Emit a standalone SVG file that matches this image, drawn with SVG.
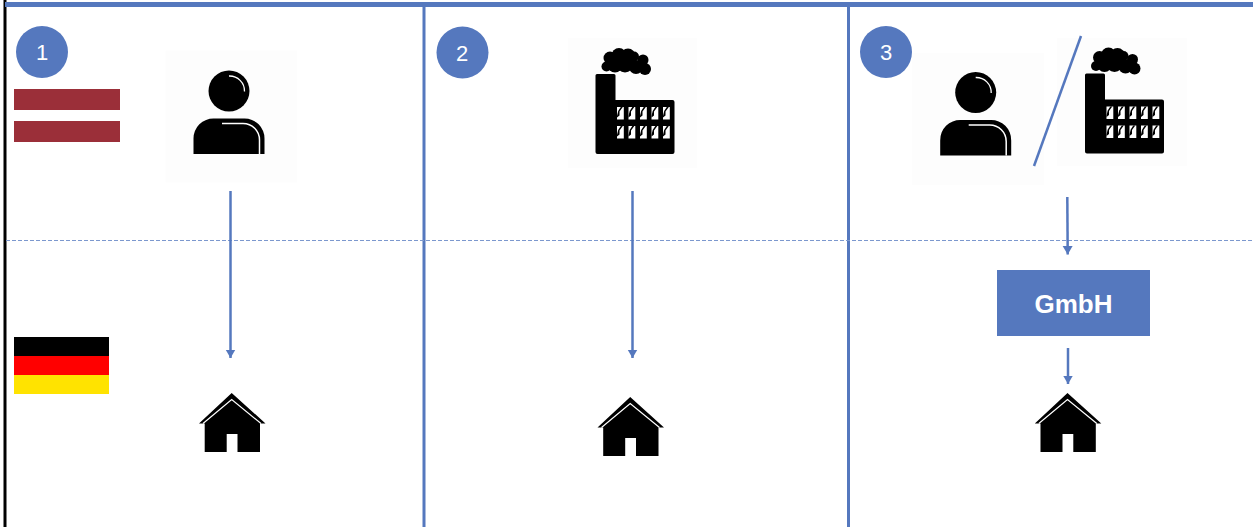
<svg xmlns="http://www.w3.org/2000/svg" width="1253" height="527" viewBox="0 0 1253 527">
<style>
.frame{stroke:#5578BE;stroke-width:3;fill:none}
.flow{stroke:#5578BE;stroke-width:2.500;fill:none;marker-end:url(#arrow)}
.badge{fill:#5578BE}
.badgeText{font-family:"Liberation Sans",Arial,sans-serif;font-size:22px;fill:#fff;text-anchor:middle}
.bg{fill:#FDFDFD}
.win{fill:#fff}
.notch{fill:#000}
</style>
<defs>
<marker id="arrow" markerUnits="userSpaceOnUse" markerWidth="11" markerHeight="11" refX="8.500" refY="5" orient="auto">
<path d="M0,0 L8.500,5 L0,10 Z" fill="#5578BE"/>
</marker>
<symbol id="window" overflow="visible">
<rect class="win" x="0" y="0" width="6.800" height="12.500"/>
<path class="notch" d="M3.800,0 H5.800 L2.500,4.500 L2.500,8.500 L0,10.500 L0,9 L1.200,4 Z"/>
</symbol>
<symbol id="person" overflow="visible">
<circle cx="229" cy="91" r="20.500" fill="#000"/>
<path d="M229,76 A15,15 0 0 1 244.500,91.500" fill="none" stroke="#fff" stroke-width="1.300"/>
<path d="M193.500,154 V139 A20,20 0 0 1 214,118.500 H244 A20,20 0 0 1 264.500,139 V154 Z" fill="#000"/>
<path d="M222,123.500 H243 A16.500,16.500 0 0 1 259.500,140 V154" fill="none" stroke="#fff" stroke-width="1.500"/>
</symbol>
<symbol id="factory" overflow="visible">
<path d="M597,74 H614 Q615.500,74 615.500,75.500 V100 H672.500 Q674.500,100 674.500,102 V152 Q674.500,154 672.500,154 H597.500 Q595.500,154 595.500,152 V75.500 Q595.500,74 597,74 Z" fill="#000"/>
<g fill="#000">
<circle cx="606.500" cy="66.500" r="5"/><circle cx="610" cy="58" r="6.500"/><circle cx="619" cy="55.500" r="7.500"/><circle cx="628" cy="56" r="7.500"/><circle cx="634" cy="56.500" r="5"/><circle cx="643" cy="60" r="5.500"/><circle cx="645" cy="69" r="6"/><circle cx="636" cy="67" r="7"/><circle cx="625" cy="64" r="8.500"/><circle cx="615" cy="65" r="7.500"/>
</g>
<use href="#window" x="617" y="107"/><use href="#window" x="628.500" y="107"/><use href="#window" x="640" y="107"/><use href="#window" x="651.500" y="107"/><use href="#window" x="663" y="107"/>
<use href="#window" x="617" y="126"/><use href="#window" x="628.500" y="126"/><use href="#window" x="640" y="126"/><use href="#window" x="651.500" y="126"/><use href="#window" x="663" y="126"/>
</symbol>
<symbol id="house" overflow="visible">
<path d="M231.700,393 L265.500,423.500 H260 V452 H237.500 V434 H226.700 V452 H204.700 V423.500 H199 Z" fill="#000"/>
<path d="M203,423.500 L231.700,399.500 L261,423.500" fill="none" stroke="#fff" stroke-width="1.200"/>
</symbol>
</defs>
<rect width="1253" height="527" fill="#fff"/>
<g id="frame">
<line class="frame" x1="424" y1="5" x2="424" y2="527"/>
<line class="frame" x1="848.500" y1="5" x2="848.500" y2="527"/>
<rect x="3.500" y="0" width="3" height="527" fill="#000"/>
<rect x="5" y="2" width="1248" height="5" fill="#5578BE"/>
<line x1="6" y1="240.500" x2="1253" y2="240.500" stroke="#7C98CE" stroke-width="1" stroke-dasharray="4 2"/>
</g>
<g id="badge-1"><circle class="badge" cx="42" cy="52" r="26"/><text class="badgeText" x="42" y="60">1</text></g>
<g id="badge-2"><circle class="badge" cx="462.500" cy="52.500" r="26"/><text class="badgeText" x="462" y="60.500">2</text></g>
<g id="badge-3"><circle class="badge" cx="886" cy="52" r="26"/><text class="badgeText" x="886" y="60">3</text></g>
<g id="flag-latvia">
<rect x="14" y="89" width="106" height="21" fill="#9B2F39"/>
<rect x="14" y="121" width="106" height="21" fill="#9B2F39"/>
</g>
<g id="flag-germany">
<rect x="14" y="337" width="95" height="19" fill="#000"/>
<rect x="14" y="356" width="95" height="19" fill="#F00"/>
<rect x="14" y="375" width="95" height="19" fill="#FFE300"/>
</g>
<g id="person-1"><rect class="bg" x="165.500" y="50.500" width="131.500" height="132"/><use href="#person"/></g>
<g id="factory-2"><rect class="bg" x="568" y="38" width="129" height="130"/><use href="#factory"/></g>
<g id="person-3"><rect class="bg" x="912" y="52.700" width="132" height="132.300"/><use href="#person" x="746.700" y="1.500"/></g>
<g id="factory-3"><rect class="bg" x="1057" y="38" width="129.700" height="128"/><use href="#factory" x="489.500" y="-0.500"/></g>
<g id="house-1"><use href="#house"/></g>
<g id="house-2"><use href="#house" x="398.500" y="4"/></g>
<g id="house-3"><use href="#house" x="835.800" y="0"/></g>
<g id="gmbh">
<rect x="997" y="270" width="153" height="66" fill="#5578BE"/>
<text x="1073.500" y="312.500" font-family="'Liberation Sans',Arial,sans-serif" font-size="26" font-weight="700" fill="#fff" text-anchor="middle">GmbH</text>
</g>
<g id="connectors">
<line class="flow" x1="230.500" y1="191" x2="230.500" y2="358"/>
<line class="flow" x1="632.500" y1="191" x2="632.500" y2="358"/>
<line class="flow" x1="1067.300" y1="197" x2="1067.700" y2="254.500"/>
<line class="flow" x1="1068" y1="348" x2="1068" y2="384"/>
<line x1="1081" y1="36" x2="1034" y2="166" stroke="#5578BE" stroke-width="2.500"/>
</g>
</svg>
